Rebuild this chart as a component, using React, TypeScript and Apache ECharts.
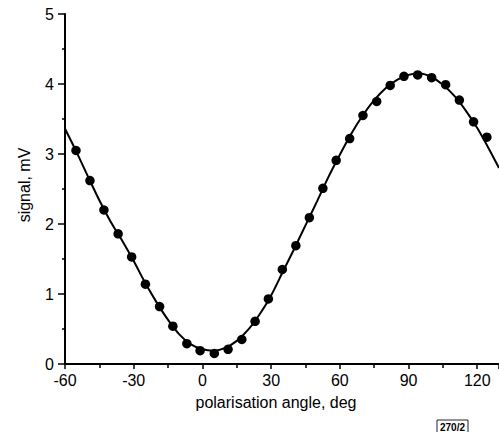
import React, { useEffect, useRef } from "react";
import * as echarts from "echarts";

// measured points (polarisation angle in deg, signal in mV)
const pointAngles = [
  -55.2, -49.1, -43.0, -36.8, -30.9, -24.9, -18.7, -12.9, -6.8, -1.0, 5.2,
  11.2, 17.2, 23.0, 28.8, 34.9, 40.8, 46.7, 52.6, 58.4, 64.3, 70.1, 76.1,
  82.0, 88.0, 94.0, 100.1, 106.2, 112.2, 118.4, 124.2,
];
const pointSignals = [
  3.05, 2.62, 2.2, 1.86, 1.53, 1.14, 0.82, 0.54, 0.29, 0.19, 0.15, 0.21, 0.35,
  0.61, 0.93, 1.35, 1.69, 2.09, 2.51, 2.91, 3.22, 3.55, 3.75, 3.98, 4.11, 4.13,
  4.09, 3.99, 3.77, 3.46, 3.24,
];

// fitted curve
const fitAngles = [
  -60, -55, -50, -45, -40, -35, -30, -25, -20, -15, -10, -5, 0, 5, 10, 15, 20,
  25, 30, 35, 40, 45, 50, 55, 60, 65, 70, 75, 80, 85, 90, 95, 100, 105, 110,
  115, 120, 125, 129.5,
];
const fitSignals = [
  3.36, 3.03, 2.68, 2.34, 2.03, 1.76, 1.47, 1.16, 0.88, 0.63, 0.42, 0.28, 0.21,
  0.19, 0.23, 0.33, 0.49, 0.71, 0.98, 1.31, 1.64, 1.98, 2.32, 2.67, 2.99, 3.29,
  3.55, 3.77, 3.94, 4.06, 4.13, 4.15, 4.1, 3.99, 3.83, 3.62, 3.37, 3.08, 2.8,
];

const xLabelValues = [-60, -30, 0, 30, 60, 90, 120];
const yLabelValues = [0, 1, 2, 3, 4, 5];

const xTitle = "polarisation angle, deg";
const yTitle = "signal, mV";
const stampText = "270/2";

const FONT = "'Liberation Sans', Arial, Helvetica, sans-serif";

export default function App() {
  const ref = useRef<HTMLDivElement>(null);

  useEffect(() => {
    if (!ref.current) return;
    const chart = echarts.init(ref.current, null, { renderer: "svg" });
    const axisCommon = {
      type: "value" as const,
      splitLine: { show: false },
      minorSplitLine: { show: false },
      axisLine: { show: true, onZero: false, lineStyle: { color: "#000", width: 2 } },
    };
    chart.setOption({
      animation: false,
      backgroundColor: "#fff",
      grid: { left: 65, top: 14, width: 434, height: 350, containLabel: false },
      xAxis: {
        ...axisCommon,
        min: -60,
        max: 129.5,
        interval: 30,
        axisTick: { show: true, length: 5, lineStyle: { color: "#000", width: 1.5 } },
        minorTick: { show: true, splitNumber: 2, length: 4, lineStyle: { color: "#000", width: 1.5 } },
        axisLabel: {
          color: "#000",
          fontSize: 16,
          fontFamily: FONT,
          margin: 8,
          showMaxLabel: false,
          formatter: (v: number) => (xLabelValues.includes(v) ? String(v) : ""),
        },
      },
      yAxis: {
        ...axisCommon,
        min: 0,
        max: 5,
        interval: 1,
        axisTick: { show: true, length: 7, lineStyle: { color: "#000", width: 1.5 } },
        minorTick: { show: true, splitNumber: 2, length: 3, lineStyle: { color: "#000", width: 1.5 } },
        axisLabel: {
          color: "#000",
          fontSize: 16,
          fontFamily: FONT,
          margin: 11,
          formatter: (v: number) => (yLabelValues.includes(v) ? String(v) : ""),
        },
      },
      series: [
        {
          type: "line",
          data: fitAngles.map((a, i) => [a, fitSignals[i]]),
          smooth: 0.3,
          showSymbol: false,
          symbol: "none",
          lineStyle: { color: "#000", width: 2 },
          clip: true,
          z: 2,
        },
        {
          type: "scatter",
          data: pointAngles.map((a, i) => [a, pointSignals[i]]),
          symbol: "circle",
          symbolSize: 9.5,
          itemStyle: { color: "#000", opacity: 1 },
          z: 3,
        },
      ],
      graphic: [
        {
          type: "text",
          x: 276,
          y: 402,
          style: {
            text: xTitle,
            fill: "#000",
            font: `16px ${FONT}`,
            align: "center",
            verticalAlign: "middle",
          },
        },
        {
          type: "text",
          x: 24,
          y: 185,
          rotation: Math.PI / 2,
          style: {
            text: yTitle,
            fill: "#000",
            font: `16px ${FONT}`,
            align: "center",
            verticalAlign: "middle",
          },
        },
        {
          type: "rect",
          shape: { x: 437, y: 420, width: 31, height: 14 },
          style: { fill: "#fff", stroke: "#222", lineWidth: 1 },
        },
        {
          type: "text",
          x: 452.5,
          y: 427,
          style: {
            text: stampText,
            fill: "#000",
            font: `bold 10px ${FONT}`,
            align: "center",
            verticalAlign: "middle",
          },
        },
      ],
    });
    return () => chart.dispose();
  }, []);

  return (
    <div
      ref={ref}
      style={{ position: "fixed", left: 0, top: 0, width: 499, height: 432, background: "#fff" }}
    />
  );
}
